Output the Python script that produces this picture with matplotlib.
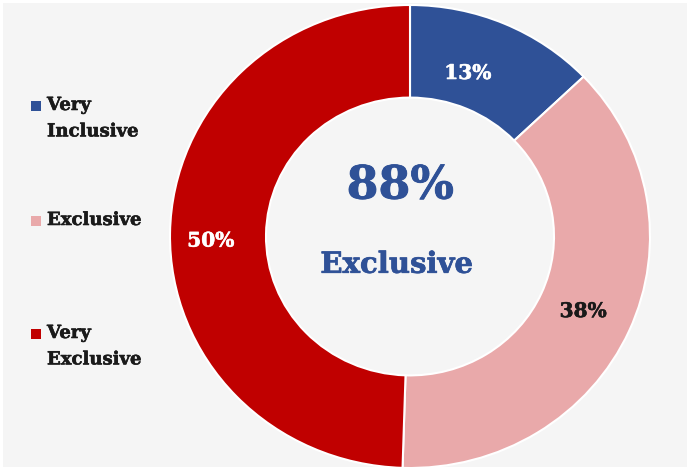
import matplotlib.pyplot as plt
import matplotlib.patheffects as pe
from matplotlib.patches import Rectangle

# share of responses per category, drawn clockwise from 12 o'clock
categories = ["Very\nInclusive", "Exclusive", "Very\nExclusive"]
values = [13, 38, 50]
colors = ["#2F5197", "#E9A9AA", "#C00000"]
label_colors = ["white", "#1a1a1a", "white"]

center_value = "88%"
center_text = "Exclusive"

plt.rcParams['font.family'] = ['DejaVu Serif']


def heavy(color, w=0.5):
    # a thin stroke of the same colour makes the serif bold look heavier
    return [pe.withStroke(linewidth=w, foreground=color)]


fig = plt.figure(figsize=(6.9, 4.7), dpi=100)
fig.patch.set_facecolor("#f5f5f5")
fig.patch.set_edgecolor("white")
fig.patch.set_linewidth(3)

W, H = 690, 470
# donut box in pixels: left, top, right, bottom
left, top, right, bottom = 170, 5, 650, 468
ax = fig.add_axes([left / W, 1 - bottom / H, (right - left) / W, (bottom - top) / H])
ax.set_facecolor("none")

wedges, texts, autotexts = ax.pie(
    values, colors=colors, startangle=90, counterclock=False,
    radius=1.0, wedgeprops=dict(width=0.4, edgecolor="white", linewidth=1.5),
    autopct=lambda p: "", pctdistance=0.79,
)
for t, v, c in zip(autotexts, values, label_colors):
    t.set_text(f"{v}%")
    t.set_color(c)
    t.set_fontsize(14.5)
    t.set_fontweight("bold")
    t.set_path_effects(heavy(c, 0.4))
# small nudges so the labels sit a bit off the slice mid-line
x, y = autotexts[0].get_position()
autotexts[0].set_position((x - 0.07, y - 0.02))
x, y = autotexts[2].get_position()
autotexts[2].set_position((x - 0.04, y - 0.03))

ax.set_aspect("auto")
ax.set_xlim(-1, 1)
ax.set_ylim(-1, 1)

ax.text(-0.04, 0.22, center_value, ha="center", va="center",
        fontsize=33, fontweight="bold", color="#2F5197",
        path_effects=heavy("#2F5197", 0.6))
ax.text(-0.055, -0.12, center_text, ha="center", va="center",
        fontsize=21, fontweight="bold", color="#2F5197",
        path_effects=heavy("#2F5197", 0.5))

# legend on the left, square marker next to the first line
legend_y = [106, 221, 334]
for lab, col, y in zip(categories, colors, legend_y):
    fig.patches.append(Rectangle((31 / W, 1 - (y + 5) / H), 10 / W, 10 / H,
                                 transform=fig.transFigure, facecolor=col,
                                 edgecolor="none"))
    fig.text(47 / W, 1 - (y - 10) / H, lab, ha="left", va="top",
             fontsize=13, fontweight="bold", color="#1a1a1a",
             linespacing=1.6, path_effects=heavy("#1a1a1a", 0.4))

fig.savefig("out.png", dpi=100, facecolor=fig.get_facecolor(),
            edgecolor=fig.get_edgecolor())
